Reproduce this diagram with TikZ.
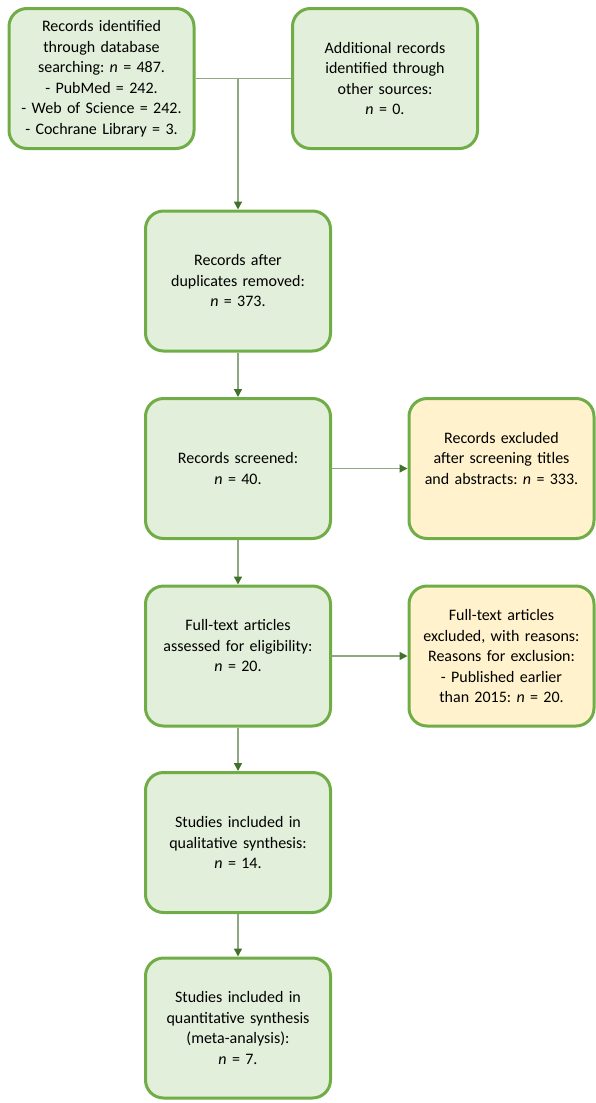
\documentclass[tikz,border=0pt]{standalone}
\usepackage{fontspec}
\setmainfont{Carlito}
\usetikzlibrary{arrows.meta}
\definecolor{boxgreen}{HTML}{70AD47}
\definecolor{fillgreen}{HTML}{E2EFDA}
\definecolor{fillyellow}{HTML}{FFF2CC}
\definecolor{linkgray}{HTML}{8FA882}
\definecolor{tipgreen}{HTML}{41712C}
\frenchspacing

\begin{document}
\begin{tikzpicture}[
		x=1pt,y=-1pt,
		every node/.style={font=\fontsize{16}{20.5}\selectfont},
		box/.style={draw=boxgreen,line width=3pt,rounded corners=18pt,fill=fillgreen,
			minimum width=185pt,minimum height=140pt,text width=178pt,align=center,inner sep=0pt},
		excl/.style={box,fill=fillyellow},
		link/.style={draw=linkgray,line width=1.5pt},
		flow/.style={link,-{Triangle[length=8pt,width=8pt,fill=tipgreen,color=tipgreen]}}
		]
		\useasboundingbox (0,0) rectangle (595,1103);

		\node[box] (ident) at (101.5,78.5) {Records identified\\through database\\searching: \textit{n} = 487.\\- PubMed = 242.\\- Web of Science = 242.\\- Cochrane Library = 3.};
		\node[box] (other) at (385,78.5) {Additional records\\identified through\\other sources:\\\textit{n} = 0.};
		\node[box] (dupl) at (238,281) {Records after\\duplicates removed:\\\textit{n} = 373.};
		\node[box] (screen) at (238,468.5) {Records screened:\\\textit{n} = 40.};
		\node[excl] (screenout) at (501.5,468.5) {Records excluded\\after screening titles\\and abstracts: \textit{n} = 333.\\\mbox{}};
		\node[box] (full) at (238,656) {Full-text articles\\assessed for eligibility:\\\textit{n} = 20.\\\mbox{}};
		\node[excl] (fullout) at (501.5,656) {Full-text articles\\excluded, with reasons:\\Reasons for exclusion:\\- Published earlier\\than 2015: \textit{n} = 20.};
		\node[box] (quali) at (238,842.5) {Studies included in\\qualitative synthesis:\\\textit{n} = 14.};
		\node[box] (quanti) at (238,1028) {Studies included in\\quantitative synthesis\\(meta-analysis):\\\textit{n} = 7.};

		\coordinate (merge) at (238,79);

		\draw[link] (ident.east) -- (other.west);
		\draw[flow] (merge) -- (dupl.north);
		\draw[flow] (dupl) -- (screen);
		\draw[flow] (screen) -- (screenout);
		\draw[flow] (screen) -- (full);
		\draw[flow] (full) -- (fullout);
		\draw[flow] (full) -- (quali);
		\draw[flow] (quali) -- (quanti);
	\end{tikzpicture}
\end{document}
